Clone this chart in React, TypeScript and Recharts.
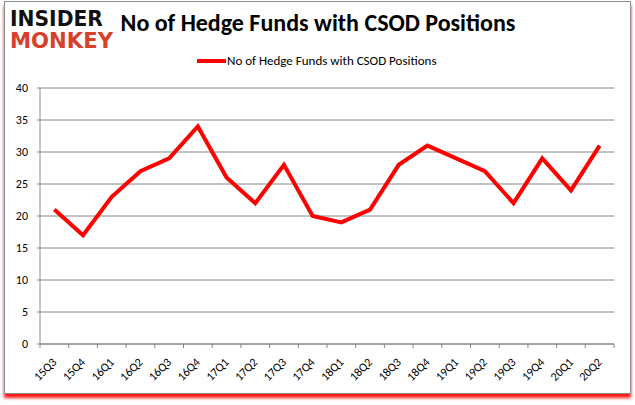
import { CartesianGrid, Line, LineChart, XAxis, YAxis } from "recharts";

const quarters = [
	"15Q3", "15Q4", "16Q1", "16Q2", "16Q3", "16Q4", "17Q1", "17Q2", "17Q3", "17Q4",
	"18Q1", "18Q2", "18Q3", "18Q4", "19Q1", "19Q2", "19Q3", "19Q4", "20Q1", "20Q2",
];
const fundCounts = [21, 17, 23, 27, 29, 34, 26, 22, 28, 20, 19, 21, 28, 31, 29, 27, 22, 29, 24, 31];
const yTicks = [0, 5, 10, 15, 20, 25, 30, 35, 40];
const seriesName = "No of Hedge Funds with CSOD Positions";

const data = quarters.map((q, i) => ({ q, value: fundCounts[i] }));

const FONT = "Carlito, 'Liberation Sans', 'Open Sans', sans-serif";
const LOGO_FONT = "'DejaVu Sans Condensed', 'DejaVu Sans', sans-serif";
const GRID = "#868686";
const HALF = 14.35;

// x tick: rotated label plus the Excel-style marks on category boundaries
function QuarterTick(props: any) {
	const { x, y, payload, index } = props;
	const ax = x + 3;
	const ay = y + 11;
	return (
		<g>
			<line x1={x - HALF} x2={x - HALF} y1={y - 8} y2={y - 4} stroke={GRID} />
			{index === quarters.length - 1 && (
				<line x1={x + HALF} x2={x + HALF} y1={y - 8} y2={y - 4} stroke={GRID} />
			)}
			<text
				x={ax}
				y={ay}
				textAnchor="end"
				fontSize={12}
				fontFamily={FONT}
				fill="#000"
				transform={`rotate(-45 ${ax} ${ay})`}
			>
				{payload.value}
			</text>
		</g>
	);
}

export default function App() {
	return (
		<div
			style={{
				position: "fixed",
				left: 0,
				top: 0,
				width: 635,
				height: 405,
				background: "#fff",
				fontFamily: FONT,
			}}
		>
			<div
				style={{
					position: "absolute",
					left: 4,
					top: 1,
					width: 625,
					height: 391,
					border: "1px solid #8c8c8c",
					boxShadow: "0 4px 3px rgba(255,0,0,0.9)",
				}}
			/>
			<svg width={130} height={60} style={{ position: "absolute", left: 0, top: 0 }}>
				<text x={10} y={26} fontSize={21} fontWeight={700} fontFamily={LOGO_FONT} textLength={93} lengthAdjust="spacingAndGlyphs" fill="#111">
					INSIDER
				</text>
				<text x={10} y={48} fontSize={21} fontWeight={700} fontFamily={LOGO_FONT} textLength={103} lengthAdjust="spacingAndGlyphs" fill="#d9402a">
					MONKEY
				</text>
			</svg>
			<div
				style={{
					position: "absolute",
					left: 118,
					top: 8,
					width: 400,
					textAlign: "center",
					fontSize: 24,
					fontWeight: 700,
					whiteSpace: "nowrap",
				}}
			>
				{seriesName}
			</div>
			<div
				style={{
					position: "absolute",
					left: 197,
					top: 53,
					display: "flex",
					alignItems: "center",
					fontSize: 13,
					whiteSpace: "nowrap",
				}}
			>
				<span style={{ display: "inline-block", width: 29, height: 4, background: "#ff0000", marginRight: 1 }} />
				{seriesName}
			</div>
			<div style={{ position: "absolute", left: 0, top: 0 }}>
				<LineChart
					width={635}
					height={405}
					data={data}
					margin={{ top: 88, right: 21, bottom: 0, left: 0 }}
				>
					<CartesianGrid vertical={false} stroke={GRID} strokeWidth={1} />
					<XAxis
						dataKey="q"
						padding={{ left: HALF, right: HALF }}
						height={61}
						axisLine={{ stroke: GRID }}
						tickLine={false}
						interval={0}
						tick={<QuarterTick />}
					/>
					<YAxis
						domain={[0, 40]}
						ticks={yTicks}
						width={40}
						axisLine={{ stroke: GRID }}
						tickLine={{ stroke: GRID }}
						tickSize={3}
						tickMargin={9}
						tick={{ fontSize: 12, fill: "#000", fontFamily: FONT }}
					/>
					<Line
						dataKey="value"
						stroke="#ff0000"
						strokeWidth={4}
						dot={false}
						type="linear"
						isAnimationActive={false}
					/>
				</LineChart>
			</div>
		</div>
	);
}
